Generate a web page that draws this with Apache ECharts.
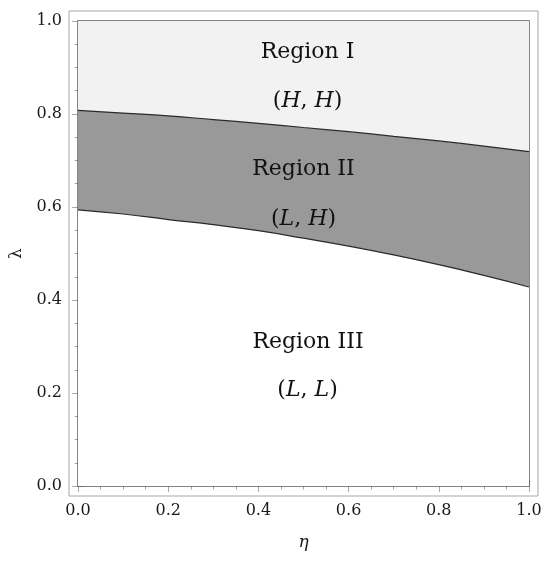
<!DOCTYPE html>
<html>
<head>
<meta charset="utf-8">
<style>
  html, body { margin: 0; padding: 0; background: #fff; }
  #main { width: 550px; height: 563px; }
</style>
<script src="https://cdn.jsdelivr.net/npm/echarts@6/dist/echarts.min.js"></script>
</head>
<body>
<div id="main"></div>
<script type="text/javascript">
  // η 取样点与两条边界 λ 值
  var eta = [0, 0.1, 0.2, 0.3, 0.4, 0.5, 0.6, 0.7, 0.8, 0.9, 1.0];
  var upperBound = [0.808, 0.802, 0.796, 0.788, 0.780, 0.771, 0.762, 0.752, 0.742, 0.731, 0.719];
  var lowerBound = [0.594, 0.585, 0.573, 0.562, 0.549, 0.533, 0.516, 0.497, 0.476, 0.453, 0.428];

  var majorTicks = [0, 0.2, 0.4, 0.6, 0.8, 1.0];
  var minorTicks = [0.05, 0.1, 0.15, 0.25, 0.3, 0.35, 0.45, 0.5, 0.55, 0.65, 0.7, 0.75, 0.85, 0.9, 0.95];

  var labelText = ['Region I', '(H, H)', 'Region II', '(L, H)', 'Region III', '(L, L)'];
  var labelEta = [0.509, 0.509, 0.5, 0.5, 0.51, 0.509];
  var labelLam = [0.933, 0.828, 0.682, 0.574, 0.309, 0.206];

  var serif = 'DejaVu Serif';
  var frameColor = '#a8a8a8';

  function pairs(ys) {
    return eta.map(function (x, i) { return [x, ys[i]]; });
  }

  function axis(pos, ticks, len, withLabel, extra) {
    var a = {
      type: 'value',
      position: pos,
      min: pos === 'bottom' || pos === 'top' ? -0.02 : -0.0215,
      max: pos === 'bottom' || pos === 'top' ? 1.02 : 1.0215,
      axisLine: { show: false },
      splitLine: { show: false },
      axisTick: {
        show: true, inside: true, length: len,
        customValues: ticks,
        lineStyle: { color: frameColor, width: 1 }
      },
      axisLabel: { show: false }
    };
    if (withLabel) {
      a.axisLabel = {
        show: true,
        customValues: ticks,
        formatter: function (v) { return v.toFixed(1); },
        fontFamily: serif,
        fontSize: 16,
        color: '#1a1a1a',
        margin: 7
      };
    }
    for (var k in extra) { a[k] = extra[k]; }
    return a;
  }

  var labelData = labelText.map(function (t, i) { return [labelEta[i], labelLam[i], t]; });

  function richLabel(t) {
    if (t.charAt(0) !== '(') return '{r|' + t + '}';
    var a = t.charAt(1), b = t.charAt(4);
    return '{p|(}{i|' + a + '}{p|, }{i|' + b + '}{p|)}';
  }

  var chart = echarts.init(document.getElementById('main'));
  chart.setOption({
    animation: false,
    grid: {
      left: 67, right: 12, top: 11, bottom: 67,
      show: true, borderColor: frameColor, borderWidth: 1,
      backgroundColor: 'transparent'
    },
    xAxis: [
      axis('bottom', majorTicks, 6, true, {
        name: 'η', nameLocation: 'middle', nameGap: 38,
        nameTextStyle: { fontFamily: serif, fontStyle: 'italic', fontSize: 17, color: '#1a1a1a' }
      }),
      axis('bottom', minorTicks, 3.5, false, {}),
      axis('top', majorTicks, 6, false, {}),
      axis('top', minorTicks, 3.5, false, {})
    ],
    yAxis: [
      axis('left', majorTicks, 6, true, {
        name: 'λ', nameLocation: 'middle', nameGap: 44,
        nameTextStyle: { fontFamily: serif, fontSize: 17, color: '#1a1a1a' }
      }),
      axis('left', minorTicks, 3.5, false, {}),
      axis('right', majorTicks, 6, false, {}),
      axis('right', minorTicks, 3.5, false, {})
    ],
    series: [
      {
        // 上边界以下先铺深灰（Region II）
        type: 'line', data: pairs(upperBound), smooth: true,
        symbol: 'none', lineStyle: { width: 0 },
        areaStyle: { color: '#999999', opacity: 1, origin: 0 }
      },
      {
        // 下边界以下覆盖白色（Region III）
        type: 'line', data: pairs(lowerBound), smooth: true,
        symbol: 'none', lineStyle: { color: '#2a2a2a', width: 1.2 },
        areaStyle: { color: '#ffffff', opacity: 1, origin: 0 }
      },
      {
        // 上边界以上浅灰（Region I）
        type: 'line', data: pairs(upperBound), smooth: true,
        symbol: 'none', lineStyle: { color: '#2a2a2a', width: 1.2 },
        areaStyle: { color: '#f2f2f2', opacity: 1, origin: 1 },
        markArea: {
          silent: true,
          itemStyle: { color: 'rgba(0,0,0,0)', borderColor: '#5a5a5a', borderWidth: 1.5 },
          data: [[{ coord: [0, 0] }, { coord: [1, 1] }]]
        }
      },
      {
        type: 'scatter', data: labelData, symbolSize: 0, silent: true, z: 10,
        itemStyle: { opacity: 1 },
        label: {
          show: true, position: 'inside', color: '#111', opacity: 1,
          formatter: function (p) { return richLabel(p.data[2]); },
          rich: {
            r: { fontFamily: serif, fontSize: 22, color: '#111' },
            p: { fontFamily: serif, fontSize: 22, color: '#111' },
            i: { fontFamily: serif, fontSize: 22, fontStyle: 'italic', color: '#111' }
          }
        }
      }
    ]
  });
</script>
</body>
</html>
